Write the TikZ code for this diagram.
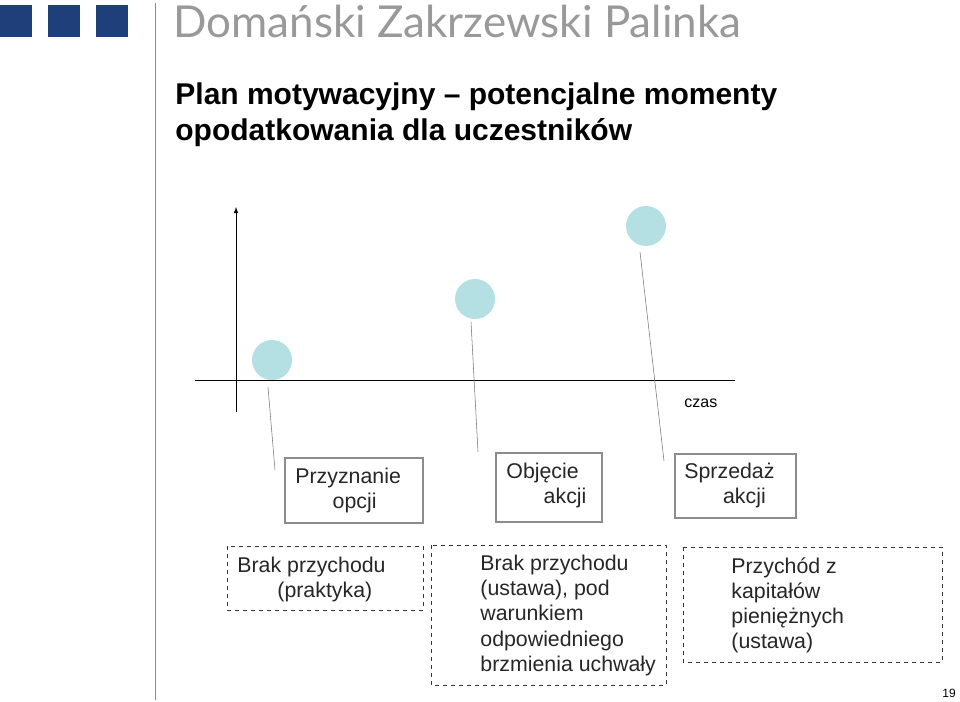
\documentclass[tikz,border=0pt]{standalone}
\usepackage{fontspec}
\setmainfont{Liberation Sans}
\newfontfamily\headfont{Lato}
\usetikzlibrary{arrows}
\definecolor{navy}{HTML}{1F3F7A}
\definecolor{teal}{HTML}{B5E0E3}
\begin{document}
\begin{tikzpicture}[
                x = 0.75pt, y = -0.75pt, % pixel grid
                > = latex, % arrow head style
                semithick % line style
            ]

            \tikzstyle{every node}=[inner sep = 0pt, anchor = north west]
            \tikzstyle{sq}=[fill = navy, minimum size = 24pt]
            \tikzstyle{dot}=[circle, fill = teal, minimum size = 30pt, anchor = center]
            \tikzstyle{box}=[draw = black!45, thick]
            \tikzstyle{dbox}=[draw = black!80, dashed]
            \tikzstyle{txt}=[font = \fontsize{16}{18.8}\selectfont, text = black!85, align = left]
            \tikzstyle{pin}=[draw = black!55, thin]

            \useasboundingbox (0,0) rectangle (960,702);

            % header
            \node (s1) [sq] at (0,5) {}; \node (s2) [sq] at (48,5) {};
            \node (s3) [sq] at (96,5) {};
            \draw[black!45, thin] (155,3) -- (155,700);
            \node (firm) [font = \headfont\fontsize{33}{34}\selectfont, text = black!40]
                at (173,5) {Domański Zakrzewski Palinka};
            \node (title) [font = \bfseries\fontsize{22.5}{27}\selectfont, align = left]
                at (175,82) {Plan motywacyjny -- potencjalne momenty\\opodatkowania dla uczestników};

            % axes
            \draw[->] (236,412) -- (236,207);
            \draw (195,380) -- (735,380);
            \node (czas) [font = \fontsize{12}{14}\selectfont] at (684,398) {czas};

            % moments
            \node (d1) [dot] at (272,360) {}; \node (d2) [dot] at (475,299) {};
            \node (d3) [dot] at (646,226) {};
            \coordinate (p1) at (268,387); \coordinate (q1) at (275,470);
            \coordinate (p2) at (471,322); \coordinate (q2) at (478,452);
            \coordinate (p3) at (640,252); \coordinate (q3) at (664,461);
            \draw[pin] (p1) -- (q1); \draw[pin] (p2) -- (q2); \draw[pin] (p3) -- (q3);

            \draw[box] (285,458) rectangle (423,523);
            \draw[box] (496,453) rectangle (602,522);
            \draw[box] (675,454) rectangle (796,518);
            \node (b1) [txt] at (295,468) {Przyznanie\\\hspace{28pt}opcji};
            \node (b2) [txt] at (506,463) {Objęcie\\\hspace{28pt}akcji};
            \node (b3) [txt] at (684,463) {Sprzedaż\\\hspace{29pt}akcji};

            \draw[dbox] (227,546) rectangle (423,610);
            \draw[dbox] (431,545) rectangle (666,685);
            \draw[dbox] (683,547) rectangle (942,662);
            \node (t1) [txt] at (237,557) {Brak przychodu\\\hspace{30pt}(praktyka)};
            \node (t2) [txt] at (480,555) {Brak przychodu\\(ustawa), pod\\warunkiem\\odpowiedniego\\brzmienia uchwały};
            \node (t3) [txt] at (731,557) {Przychód z\\kapitałów\\pieniężnych\\(ustawa)};

            \node (page) [font = \fontsize{9}{10}\selectfont] at (942,689) {19};

        \end{tikzpicture}
\end{document}
